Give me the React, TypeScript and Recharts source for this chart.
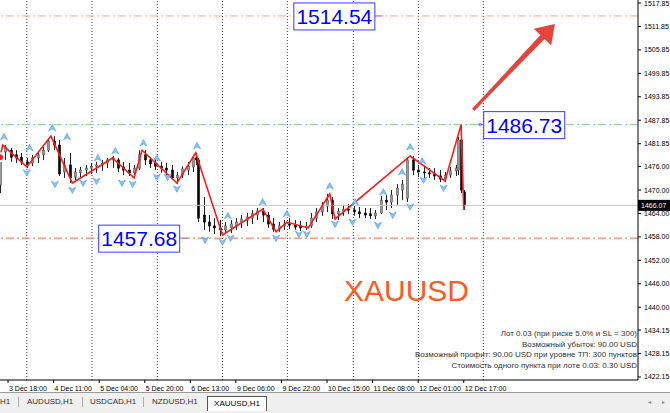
import React from 'react';
import { ComposedChart, Bar, Line, Scatter, XAxis, YAxis, ReferenceLine } from 'recharts';

// x axis is the H1 bar number, y axis the XAUUSD price
const timeTicks = [3, 20, 37, 54, 71, 88, 105, 122, 139, 156, 173];
const timeLabels = [
  '3 Dec 18:00', '4 Dec 11:00', '5 Dec 04:00', '5 Dec 20:00', '6 Dec 13:00', '9 Dec 06:00',
  '9 Dec 22:00', '10 Dec 15:00', '11 Dec 08:00', '12 Dec 01:00', '12 Dec 17:00',
];
const priceTicks = [
  1517.85, 1511.85, 1505.85, 1499.85, 1493.85, 1487.85, 1481.85, 1476.0, 1470.0,
  1464.0, 1458.0, 1452.0, 1446.0, 1440.0, 1434.15, 1428.15, 1422.15,
];
const separators = [10, 34.3, 58.7, 83, 107.2, 131.8, 156.1, 180.3];

// [bar, open, high, low, close]
const candles: number[][] = [
  [0, 1471.3, 1479.5, 1469.2, 1478.2], [2, 1479.7, 1481.5, 1477.7, 1480.8], [4, 1480.2, 1480.8, 1477.2, 1478.4],
  [6, 1479.0, 1480.2, 1476.9, 1478.2], [8, 1478.4, 1479.5, 1476.4, 1477.2], [10, 1477.2, 1478.2, 1475.6, 1476.4],
  [12, 1476.9, 1479.0, 1476.1, 1478.2], [14, 1478.2, 1479.7, 1476.9, 1479.0], [16, 1479.0, 1481.0, 1477.7, 1480.2],
  [18, 1480.2, 1483.3, 1479.7, 1482.5], [20, 1482.5, 1483.8, 1480.2, 1481.5], [22, 1481.5, 1482.8, 1473.6, 1474.1],
  [24, 1474.6, 1478.2, 1473.1, 1476.4], [26, 1476.4, 1479.5, 1471.8, 1473.1], [28, 1473.3, 1475.6, 1472.0, 1474.6],
  [30, 1474.4, 1475.9, 1473.1, 1475.1], [32, 1475.1, 1476.4, 1473.6, 1475.6], [34, 1475.6, 1476.9, 1474.1, 1476.1],
  [36, 1476.1, 1477.2, 1474.4, 1476.4], [38, 1476.4, 1477.7, 1474.9, 1476.9], [40, 1476.9, 1478.2, 1475.6, 1477.7],
  [42, 1477.7, 1478.7, 1475.6, 1478.2], [44, 1477.7, 1478.2, 1474.6, 1475.6], [46, 1475.9, 1477.2, 1473.8, 1475.1],
  [48, 1475.1, 1476.9, 1473.6, 1474.4], [50, 1474.4, 1476.4, 1473.1, 1475.6], [52, 1475.6, 1480.2, 1475.1, 1479.0],
  [54, 1479.0, 1480.2, 1476.4, 1477.7], [56, 1477.7, 1478.4, 1475.6, 1476.7], [58, 1476.9, 1478.2, 1475.1, 1476.1],
  [60, 1476.1, 1477.2, 1474.4, 1475.6], [62, 1475.6, 1476.9, 1473.8, 1475.1], [64, 1475.1, 1476.4, 1472.6, 1473.1],
  [66, 1473.1, 1474.6, 1471.5, 1473.8], [68, 1473.8, 1476.1, 1473.1, 1475.4], [70, 1475.1, 1477.2, 1473.8, 1476.1],
  [72, 1475.9, 1479.0, 1474.6, 1478.2], [73, 1478.2, 1479.5, 1476.4, 1477.7], [74, 1477.7, 1478.2, 1461.8, 1462.8],
  [76, 1463.6, 1468.2, 1459.8, 1461.8], [78, 1461.8, 1463.6, 1459.3, 1460.8], [80, 1460.8, 1462.8, 1458.7, 1460.3],
  [82, 1460.3, 1462.3, 1458.2, 1459.8], [84, 1459.8, 1461.8, 1458.7, 1460.8], [86, 1460.3, 1462.3, 1459.0, 1461.3],
  [88, 1460.8, 1462.8, 1459.8, 1461.8], [90, 1461.8, 1463.6, 1460.3, 1462.6], [92, 1462.3, 1464.1, 1460.8, 1463.1],
  [94, 1462.8, 1464.9, 1461.3, 1463.9], [96, 1463.6, 1465.4, 1462.3, 1464.6], [98, 1464.6, 1465.4, 1461.8, 1463.6],
  [100, 1463.6, 1464.4, 1460.3, 1461.3], [102, 1461.3, 1462.8, 1459.3, 1460.0], [104, 1460.0, 1461.8, 1459.3, 1460.8],
  [106, 1460.8, 1462.3, 1459.8, 1461.3], [108, 1461.3, 1462.8, 1460.0, 1461.0], [110, 1461.0, 1462.3, 1459.8, 1460.5],
  [112, 1460.8, 1462.1, 1459.5, 1460.3], [114, 1460.3, 1461.8, 1459.8, 1460.8], [116, 1460.8, 1464.1, 1460.3, 1462.8],
  [118, 1462.8, 1465.4, 1461.8, 1464.4], [120, 1464.4, 1466.9, 1463.4, 1465.9], [122, 1465.9, 1469.0, 1464.4, 1467.4],
  [124, 1467.4, 1468.2, 1462.6, 1463.9], [126, 1463.9, 1465.4, 1462.3, 1464.6], [128, 1464.6, 1466.2, 1463.4, 1465.1],
  [130, 1465.1, 1466.4, 1463.9, 1464.9], [132, 1464.9, 1465.9, 1463.4, 1464.4], [134, 1464.4, 1465.7, 1462.8, 1463.9],
  [136, 1464.1, 1465.4, 1462.8, 1463.6], [138, 1463.9, 1465.4, 1462.6, 1463.4], [140, 1463.4, 1464.9, 1462.6, 1464.1],
  [142, 1464.1, 1468.5, 1463.9, 1467.4], [144, 1467.4, 1468.7, 1464.9, 1466.9], [146, 1466.9, 1470.0, 1465.4, 1468.7],
  [148, 1468.7, 1471.5, 1466.2, 1470.5], [150, 1470.0, 1472.6, 1467.4, 1471.5], [152, 1467.9, 1478.4, 1466.9, 1477.7],
  [154, 1477.7, 1478.7, 1473.8, 1475.1], [156, 1475.1, 1476.4, 1473.3, 1474.6], [158, 1474.6, 1475.9, 1473.1, 1474.4],
  [160, 1474.4, 1475.6, 1473.1, 1474.1], [162, 1474.1, 1475.6, 1472.6, 1473.6], [164, 1473.6, 1475.1, 1472.0, 1472.8],
  [166, 1472.8, 1474.6, 1472.0, 1473.8], [168, 1473.8, 1475.9, 1473.1, 1474.9], [170, 1474.9, 1476.4, 1473.6, 1475.6],
  [171, 1475.1, 1483.6, 1473.8, 1482.8], [172, 1482.8, 1486.7, 1469.2, 1470.0], [173, 1469.5, 1470.0, 1464.9, 1466.07],
];

// ZigZag vertices [bar, price]
const zigzag = [
  [0, 1478.4], [1, 1481.5], [10, 1475.9], [19, 1483.8], [27, 1471.8], [42, 1478.2], [50, 1473.1],
  [53, 1480.2], [66, 1471.8], [73, 1479.5], [83, 1458.5], [98, 1465.1], [103, 1459.3], [107, 1461.8],
  [115, 1460.3], [123, 1469.0], [125, 1462.6], [153, 1478.7], [166, 1472.3], [172, 1486.73], [173, 1464.9],
];

// fractal arrows [bar, price]
const upArrows = [
  [1.5, 1483.6], [11, 1480.8], [19.5, 1485.9], [25, 1483.6], [36.5, 1478.2], [43, 1480.0], [53.5, 1482.0],
  [58.5, 1478.2], [73.5, 1481.3], [85, 1463.4], [98, 1466.9], [107, 1463.9], [123, 1471.0], [132.5, 1466.9],
  [143, 1469.5], [150, 1474.6], [153, 1481.0], [157.5, 1477.4],
];
const downArrows = [
  [10, 1474.4], [20.5, 1471.5], [27, 1470.0], [31, 1471.8], [36, 1472.3], [45.5, 1471.8], [49.5, 1471.5],
  [58.5, 1473.3], [62.5, 1473.3], [66, 1470.3], [76.5, 1457.2], [83, 1456.7], [86, 1457.7], [103, 1457.7],
  [111.5, 1458.7], [114.5, 1458.7], [125, 1461.3], [131.5, 1461.8], [141, 1461.0], [146.5, 1463.6],
  [153, 1465.7], [158, 1472.6], [165.5, 1470.5],
];

const takeProfit = 1514.54;
const entry = 1486.73;
const stopLoss = 1457.68;
const lastPrice = 1466.07;

// price tags: [bar of connector end, price, side of box]
const priceTags: [number, number, string][] = [
  [143, takeProfit, 'left'],
  [178.4, entry, 'right'],
  [70.2, stopLoss, 'left'],
];

const infoLines = [
  'Лот 0.03 (при риске 5.0% и SL = 300)',
  'Возможный убыток: 90.00 USD',
  'Возможный профит: 90.00 USD при уровне ТП: 300 пунктов',
  'Стоимость одного пункта при лоте 0.03: 0.30 USD',
];
const tabs = ['H1', 'AUDUSD,H1', 'USDCAD,H1', 'NZDUSD,H1'];

const FONT = '"Liberation Sans", Arial, sans-serif';

const candleData = candles.map(([i, o, h, l, c]) => ({ i, o, h, l, c }));
const zigData = zigzag.map(([i, p]) => ({ i, p }));
const upData = upArrows.map(([i, p]) => ({ i, p }));
const downData = downArrows.map(([i, p]) => ({ i, p }));
const tagData = priceTags.map(([i, p, side]) => ({ i, p, side }));

function Candle(props: any) {
  const { x, y, width, height, payload } = props;
  if (x == null || y == null) return null;
  const top = Math.min(y, y + height);
  const hgt = Math.abs(height);
  const { o, h, l, c } = payload;
  const k = hgt / (h - l || 1);
  const yo = top + (h - o) * k;
  const yc = top + (h - c) * k;
  const cx = Math.round(x + width / 2) + 0.5;
  const bTop = Math.min(yo, yc);
  const bH = Math.max(1, Math.abs(yc - yo));
  const bull = c >= o;
  return (
    <g>
      <line x1={cx} x2={cx} y1={top} y2={top + hgt} stroke="#222" strokeWidth={1} />
      <rect x={cx - 1} y={bTop} width={2} height={bH} fill={bull ? '#9a9a9a' : '#000'} stroke={bull ? '#555' : '#000'} strokeWidth={0.6} />
    </g>
  );
}

function UpArrow(props: any) {
  const { cx, cy } = props;
  return (
    <path
      d={`M${cx},${cy - 3.5} L${cx + 3.5},${cy + 3} L${cx},${cy + 1} L${cx - 3.5},${cy + 3} Z`}
      fill="#8cc2f8"
      stroke="#4a98ea"
      strokeWidth={0.6}
    />
  );
}

function DownArrow(props: any) {
  const { cx, cy } = props;
  return (
    <path
      d={`M${cx},${cy + 3.5} L${cx + 3.5},${cy - 3} L${cx},${cy - 1} L${cx - 3.5},${cy - 3} Z`}
      fill="#8cc2f8"
      stroke="#4a98ea"
      strokeWidth={0.6}
    />
  );
}

function PriceTag(props: any) {
  const { cx, cy, payload } = props;
  const w = 81;
  const h = 27;
  const left = payload.side === 'left';
  const bx = left ? cx - 9 - w : cx + 5;
  return (
    <g>
      {left ? (
        <line x1={cx - 9} x2={cx} y1={cy} y2={cy} stroke="#8a8aff" />
      ) : (
        <g>
          <line x1={cx} x2={cx + 5} y1={cy} y2={cy} stroke="#6a6aff" />
          <circle cx={cx + 2} cy={cy} r={1.3} fill="none" stroke="#6a6aff" strokeWidth={0.8} />
        </g>
      )}
      <rect x={bx + 0.5} y={cy - h / 2 + 0.5} width={w} height={h} fill="#fff" stroke="#3a3aff" strokeWidth={1} />
      <text x={bx + w / 2 + 0.5} y={cy + 8} textAnchor="middle" fontSize={21} fontFamily={FONT} fill="#0000ff">
        {payload.p.toFixed(2)}
      </text>
    </g>
  );
}

function TrendArrow(props: any) {
  const { x1, y1, x2, y2 } = props;
  const dx = x2 - x1;
  const dy = y2 - y1;
  const len = Math.hypot(dx, dy) || 1;
  const ux = dx / len;
  const uy = dy / len;
  const nx = -uy;
  const ny = ux;
  const headL = 18;
  const headW = 12;
  const bx = x2 - ux * headL;
  const by = y2 - uy * headL;
  const pts = [
    [x1 + nx * 1.5, y1 + ny * 1.5],
    [bx + nx * 2.8, by + ny * 2.8],
    [bx + nx * headW, by + ny * headW],
    [x2, y2],
    [bx - nx * headW, by - ny * headW],
    [bx - nx * 2.8, by - ny * 2.8],
    [x1 - nx * 1.5, y1 - ny * 1.5],
  ];
  return <polygon points={pts.map((p) => p.join(',')).join(' ')} fill="#e4443a" />;
}

function LastPriceLabel(props: any) {
  const { viewBox } = props;
  const x = viewBox.x + viewBox.width;
  const y = viewBox.y;
  return (
    <g>
      <rect x={x} y={y - 5.5} width={32} height={11} fill="#000" />
      <text x={x + 3} y={y + 2.5} fontSize={7} fontFamily={FONT} fill="#fff">
        {lastPrice.toFixed(2)}
      </text>
    </g>
  );
}

function PriceTick(props: any) {
  const { x, y, payload } = props;
  return (
    <text x={x + 1} y={y + 2.5} fontSize={7} fontFamily={FONT} fill="#000">
      {Number(payload.value).toFixed(2)}
    </text>
  );
}

function TimeTick(props: any) {
  const { x, y, payload } = props;
  const idx = timeTicks.indexOf(payload.value);
  return (
    <text x={x + 1} y={y + 6} fontSize={7} fontFamily={FONT} fill="#000">
      {timeLabels[idx]}
    </text>
  );
}

const dashDot = '8 3 2 3';

export default function App() {
  return (
    <div style={{ position: 'absolute', left: 0, top: 0, width: 670, height: 413, background: '#fff', overflow: 'hidden' }}>
      <ComposedChart width={670} height={392} data={candleData} margin={{ top: 0, right: 0, left: 0, bottom: 0 }}>
        <XAxis
          dataKey="i"
          type="number"
          domain={[0, 238]}
          ticks={timeTicks}
          interval={0}
          tick={<TimeTick />}
          height={12}
          tickSize={3}
          axisLine={{ stroke: '#000' }}
          tickLine={{ stroke: '#000' }}
          allowDataOverflow
        />
        <YAxis
          orientation="right"
          type="number"
          domain={[1421.38, 1518.62]}
          ticks={priceTicks}
          interval={0}
          tick={<PriceTick />}
          width={32}
          tickSize={3}
          axisLine={{ stroke: '#000' }}
          tickLine={{ stroke: '#000' }}
          allowDataOverflow
        />
        {separators.map((s) => (
          <ReferenceLine key={s} x={s} stroke="#444" strokeDasharray="1 2" />
        ))}
        <ReferenceLine y={takeProfit} stroke="#f7a88c" strokeDasharray={dashDot} />
        <ReferenceLine y={entry} stroke="#8fcb8f" strokeDasharray={dashDot} />
        <ReferenceLine y={stopLoss} stroke="#f26b3c" strokeDasharray={dashDot} />
        <ReferenceLine y={lastPrice} stroke="#c8c8c8" label={<LastPriceLabel />} />
        <Bar dataKey={(d: any) => [d.l, d.h]} barSize={3} shape={<Candle />} isAnimationActive={false} />
        <Line
          data={zigData}
          dataKey="p"
          stroke="#ff1a1a"
          strokeWidth={1.6}
          dot={false}
          isAnimationActive={false}
        />
        <Scatter data={upData} dataKey="p" shape={<UpArrow />} isAnimationActive={false} />
        <Scatter data={downData} dataKey="p" shape={<DownArrow />} isAnimationActive={false} />
        <Scatter data={tagData} dataKey="p" shape={<PriceTag />} isAnimationActive={false} />
        <ReferenceLine
          segment={[{ x: 176.5, y: 1490.5 }, { x: 207, y: 1512.5 }]}
          shape={<TrendArrow />}
          ifOverflow="visible"
        />
      </ComposedChart>

      <div
        style={{
          position: 'absolute', left: 344, top: 276, fontFamily: FONT, fontSize: 30, lineHeight: '30px',
          color: '#ff5a1e', whiteSpace: 'nowrap',
        }}
      >
        XAUUSD
      </div>

      <div
        style={{
          position: 'absolute', right: 33, top: 329, fontFamily: FONT, fontSize: 8, lineHeight: '10.6px',
          color: '#333', textAlign: 'right', whiteSpace: 'nowrap',
        }}
      >
        {infoLines.map((t) => (
          <div key={t}>{t}</div>
        ))}
      </div>

      {/* terminal tab strip */}
      <div
        style={{
          position: 'absolute', left: 0, top: 392, width: 670, height: 21, background: '#f0f0f0',
          borderTop: '1px solid #9a9a9a', fontFamily: FONT, fontSize: 8, color: '#333',
        }}
      >
        {tabs.map((t, k) => (
          <span
            key={t}
            style={{
              position: 'absolute', top: 4, left: [0, 27, 90, 152][k], whiteSpace: 'nowrap',
            }}
          >
            {t}
          </span>
        ))}
        {[18, 82, 143].map((x) => (
          <span key={x} style={{ position: 'absolute', left: x, top: 4, width: 1, height: 10, background: '#b0b0b0' }} />
        ))}
        <span
          style={{
            position: 'absolute', left: 207, top: 3, width: 58, height: 14, background: '#fff',
            border: '1px solid #555', borderBottom: 'none', textAlign: 'center', lineHeight: '13px', color: '#000',
          }}
        >
          XAUUSD,H1
        </span>
        <span style={{ position: 'absolute', left: 648, top: 5, fontSize: 6, color: '#888' }}>◂</span>
        <span style={{ position: 'absolute', left: 662, top: 5, fontSize: 6, color: '#888' }}>▸</span>
      </div>
    </div>
  );
}
